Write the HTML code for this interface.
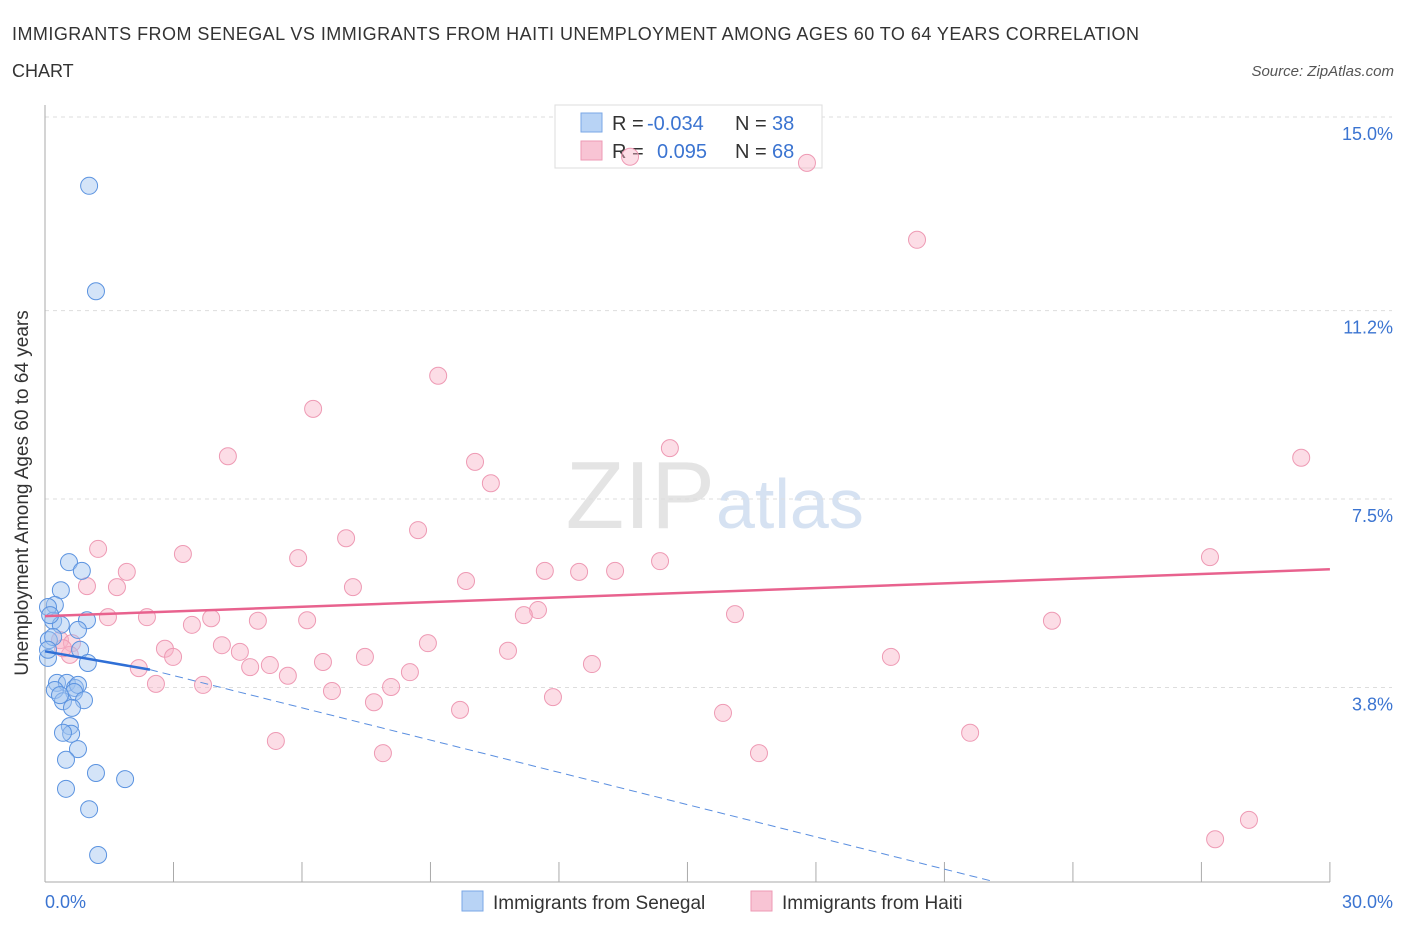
<!DOCTYPE html>
<html><head><meta charset="utf-8"><style>
body{margin:0;background:#fff;font-family:"Liberation Sans",sans-serif;}
svg text{font-family:"Liberation Sans",sans-serif;}
</style></head><body>
<svg width="1406" height="930" xmlns="http://www.w3.org/2000/svg" id="chart">
<text x="12" y="40" font-size="18" fill="#333" textLength="1127">IMMIGRANTS FROM SENEGAL VS IMMIGRANTS FROM HAITI UNEMPLOYMENT AMONG AGES 60 TO 64 YEARS CORRELATION</text>
<text x="12" y="77" font-size="18" fill="#333">CHART</text>
<text x="1394" y="76" font-size="15" fill="#555" font-style="italic" text-anchor="end">Source: ZipAtlas.com</text>
<text x="715" y="528" font-size="96" fill="#e4e4e4" text-anchor="end" font-family="Liberation Serif">ZIP</text>
<text x="716" y="528" font-size="70" fill="#d6e2f2">atlas</text>
<g id="grid"></g>
<line x1="45" y1="105" x2="45" y2="882" stroke="#aaa"/>
<line x1="45" y1="882" x2="1330" y2="882" stroke="#aaa"/>
<g id="xt"></g>
<text x="28" y="493" font-size="19" fill="#333" text-anchor="middle" transform="rotate(-90 28 493)">Unemployment Among Ages 60 to 64 years</text>
<text x="45" y="908" font-size="18" fill="#3b74d1">0.0%</text>
<text x="1393" y="908" font-size="18" fill="#3b74d1" text-anchor="end">30.0%</text>
<g>
<rect x="555" y="105" width="267" height="63" fill="#fff" stroke="#ddd"/>
<rect x="581" y="113" width="21" height="19" fill="#b8d3f5" stroke="#7aa7e6"/>
<rect x="581" y="141" width="21" height="19" fill="#f8c4d4" stroke="#ee9ab4"/>
<text x="612" y="130" font-size="20" fill="#333">R = </text>
<text x="647" y="130" font-size="20" fill="#3b74d1">-0.034</text>
<text x="735" y="130" font-size="20" fill="#333">N = </text>
<text x="772" y="130" font-size="20" fill="#3b74d1">38</text>
<text x="612" y="158" font-size="20" fill="#333">R = </text>
<text x="657" y="158" font-size="20" fill="#3b74d1">0.095</text>
<text x="735" y="158" font-size="20" fill="#333">N = </text>
<text x="772" y="158" font-size="20" fill="#3b74d1">68</text>
</g>
<g id="pts"></g>
<g id="lines"></g>
<g>
<rect x="462" y="891" width="21" height="20" fill="#b8d3f5" stroke="#7aa7e6"/>
<text x="493" y="909" font-size="19" fill="#333">Immigrants from Senegal</text>
<rect x="751" y="891" width="21" height="20" fill="#f8c4d4" stroke="#ee9ab4"/>
<text x="782" y="909" font-size="19" fill="#333">Immigrants from Haiti</text>
</g>
</svg>
<script>
const yTicks=[15.0,11.2,7.5,3.8];
const yTickLabels=["15.0%","11.2%","7.5%","3.8%"];
const senegalPx=[[89,186],[96,291],[69,562],[82,571],[61,590],[55,605],[48,607],[53,621],[61,625],[87,620],[78,630],[49,640],[53,637],[80,650],[48,658],[88,663],[57,683],[67,683],[75,688],[78,685],[74,692],[55,690],[84,700],[63,701],[72,708],[70,726],[71,734],[63,733],[78,749],[66,760],[96,773],[125,779],[66,789],[89,809],[98,855],[48,650],[50,615],[60,695]];
const haitiPx=[[630,157],[807,163],[917,240],[438,376],[313,409],[228,456],[670,448],[475,462],[1301,458],[491,483],[418,530],[346,538],[98,549],[183,554],[298,558],[1210,557],[660,561],[127,572],[545,571],[579,572],[615,571],[466,581],[353,587],[87,586],[117,587],[538,610],[524,615],[108,617],[147,617],[211,618],[258,621],[307,620],[735,614],[1052,621],[192,625],[222,645],[428,643],[60,640],[72,643],[240,652],[508,651],[365,657],[165,649],[173,657],[891,657],[70,655],[323,662],[270,665],[592,664],[250,667],[139,668],[410,672],[288,676],[391,687],[156,684],[203,685],[332,691],[374,702],[553,697],[460,710],[723,713],[276,741],[970,733],[383,753],[759,753],[1249,820],[1215,839],[63,648]];
const toData=p=>[+((p[0]-45)/42.83).toFixed(2),+((881-p[1])/50.93).toFixed(2)];
const senegalX=senegalPx.map(p=>toData(p)[0]), senegalY=senegalPx.map(p=>toData(p)[1]);
const haitiX=haitiPx.map(p=>toData(p)[0]), haitiY=haitiPx.map(p=>toData(p)[1]);
const senegalTrend=[[0,4.51],[2.45,4.15],[22.1,0]];
const haitiTrend=[[0,5.2],[30,6.12]];
const NS="http://www.w3.org/2000/svg";
const X=v=>45+v*42.83, Y=v=>881-v*50.93;
function mk(t,a,p){const e=document.createElementNS(NS,t);for(const k in a)e.setAttribute(k,a[k]);document.getElementById(p).appendChild(e);return e;}
yTicks.forEach((t,i)=>{
 const l=mk('line',{x1:45,x2:1392,y1:Y(t),y2:Y(t),stroke:'#ddd','stroke-dasharray':'4,4'},'grid');
 
 
 const tx=mk('text',{x:1393,y:Y(t)+23,'font-size':18,fill:'#3b74d1','text-anchor':'end'},'grid');
 tx.textContent=yTickLabels[i];
 
 
});
for(let i=1;i<=10;i++){const l=mk('line',{x1:X(i*3),x2:X(i*3),y1:862,y2:882,stroke:'#aaa'},'xt');
 
 }
haitiX.forEach((x,i)=>{const c=mk('circle',{cx:X(x),cy:Y(haitiY[i]),r:8.5,fill:'rgba(248,180,200,0.45)',stroke:'#ee9ab4','stroke-width':1},'pts');
 
 });
senegalX.forEach((x,i)=>{const c=mk('circle',{cx:X(x),cy:Y(senegalY[i]),r:8.5,fill:'rgba(160,195,240,0.45)',stroke:'#5b93e0','stroke-width':1},'pts');
 
 });
let l=mk('line',{x1:X(haitiTrend[0][0]),y1:Y(haitiTrend[0][1]),x2:X(haitiTrend[1][0]),y2:Y(haitiTrend[1][1]),stroke:'#e8628e','stroke-width':2.5},'lines');


l=mk('line',{x1:X(senegalTrend[0][0]),y1:Y(senegalTrend[0][1]),x2:X(senegalTrend[1][0]),y2:Y(senegalTrend[1][1]),stroke:'#2f6fd6','stroke-width':2.5},'lines');


l=mk('line',{x1:X(senegalTrend[1][0]),y1:Y(senegalTrend[1][1]),x2:X(senegalTrend[2][0]),y2:Y(senegalTrend[2][1]),stroke:'#5b8fe0','stroke-width':1,'stroke-dasharray':'8,5'},'lines');


</script>
</body></html>
